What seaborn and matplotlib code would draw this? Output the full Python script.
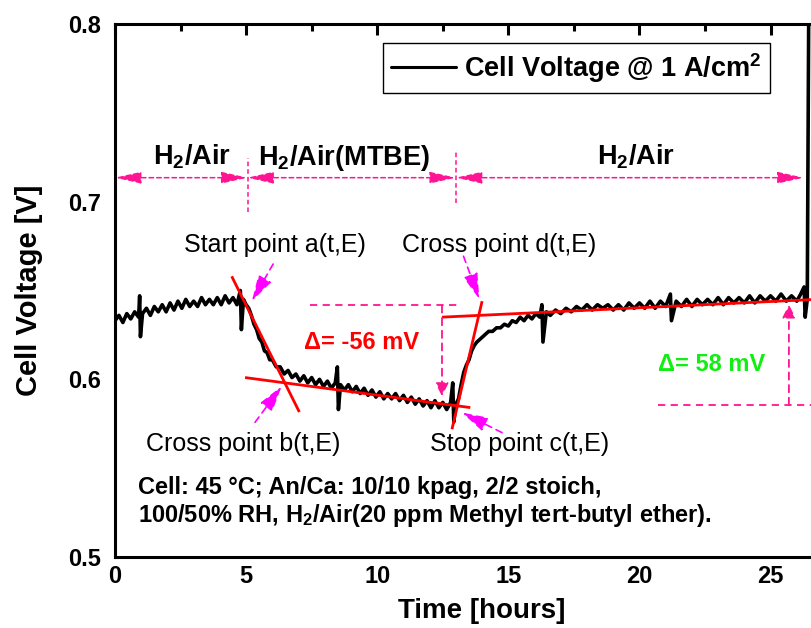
import matplotlib
matplotlib.use("Agg")
import matplotlib.pyplot as plt
import seaborn as sns
import pandas as pd
from matplotlib.ticker import MultipleLocator
from matplotlib.lines import Line2D

# ---------------- data ----------------
time_h = [0.00, 0.15, 0.30, 0.45, 0.60, 0.75, 0.90, 0.94, 0.97, 1.05, 1.20, 1.35, 1.50, 1.65, 1.80, 1.95,
          2.10, 2.25, 2.40, 2.55, 2.70, 2.85, 3.00, 3.15, 3.30, 3.45, 3.60, 3.75, 3.90, 4.05, 4.20, 4.35,
          4.50, 4.65, 4.78, 4.82, 4.90, 5.00, 5.10, 5.20, 5.30, 5.40, 5.50, 5.60, 5.70, 5.80, 5.90, 6.00,
          6.15, 6.30, 6.45, 6.60, 6.75, 6.90, 7.05, 7.20, 7.35, 7.50, 7.65, 7.80, 7.95, 8.10, 8.25, 8.40,
          8.48, 8.52, 8.60, 8.75, 8.90, 9.05, 9.20, 9.35, 9.50, 9.65, 9.80, 9.95, 10.10, 10.25, 10.40, 10.55,
          10.70, 10.85, 11.00, 11.15, 11.30, 11.45, 11.60, 11.75, 11.90, 12.05, 12.20, 12.35, 12.50, 12.65,
          12.80, 12.88, 12.92, 13.00, 13.10, 13.20, 13.30, 13.40, 13.50, 13.60, 13.70, 13.80, 13.95, 14.10,
          14.25, 14.40, 14.55, 14.70, 14.85, 15.00, 15.15, 15.30, 15.45, 15.60, 15.75, 15.90, 16.05, 16.20,
          16.28, 16.32, 16.45, 16.60, 16.80, 17.00, 17.20, 17.40, 17.60, 17.80, 18.00, 18.20, 18.40, 18.60,
          18.80, 19.00, 19.20, 19.40, 19.60, 19.80, 20.00, 20.20, 20.40, 20.60, 20.80, 21.00, 21.18, 21.22,
          21.40, 21.60, 21.80, 22.00, 22.20, 22.40, 22.60, 22.80, 23.00, 23.20, 23.40, 23.60, 23.80, 24.00,
          24.20, 24.40, 24.60, 24.80, 25.00, 25.20, 25.40, 25.60, 25.80, 26.00, 26.15, 26.28, 26.32, 26.40,
          26.46]
voltage = [0.633, 0.636, 0.632, 0.637, 0.634, 0.638, 0.635, 0.647, 0.624, 0.637, 0.640, 0.636, 0.641, 0.638, 0.642, 0.638,
           0.643, 0.639, 0.644, 0.640, 0.645, 0.641, 0.644, 0.641, 0.646, 0.642, 0.645, 0.642, 0.646, 0.642, 0.647, 0.643,
           0.646, 0.642, 0.650, 0.628, 0.645, 0.642, 0.640, 0.636, 0.631, 0.628, 0.623, 0.621, 0.616, 0.615, 0.611, 0.611,
           0.607, 0.607, 0.603, 0.605, 0.601, 0.603, 0.599, 0.602, 0.598, 0.601, 0.597, 0.600, 0.596, 0.599, 0.595, 0.598,
           0.607, 0.583, 0.597, 0.594, 0.597, 0.593, 0.596, 0.592, 0.595, 0.591, 0.594, 0.590, 0.593, 0.589, 0.592, 0.589,
           0.592, 0.588, 0.591, 0.587, 0.590, 0.586, 0.589, 0.585, 0.588, 0.584, 0.588, 0.584, 0.587, 0.583,
           0.587, 0.598, 0.576, 0.586, 0.589, 0.597, 0.604, 0.608, 0.611, 0.616, 0.619, 0.621, 0.623, 0.625,
           0.627, 0.627, 0.629, 0.629, 0.631, 0.630, 0.633, 0.632, 0.635, 0.633, 0.636, 0.634, 0.637, 0.635,
           0.642, 0.621, 0.638, 0.636, 0.639, 0.637, 0.640, 0.638, 0.641, 0.639, 0.642, 0.639, 0.642, 0.640,
           0.642, 0.639, 0.642, 0.639, 0.643, 0.640, 0.643, 0.640, 0.644, 0.640, 0.644, 0.641, 0.648, 0.633,
           0.644, 0.641, 0.645, 0.641, 0.645, 0.642, 0.645, 0.642, 0.646, 0.642, 0.646, 0.643, 0.646, 0.643,
           0.647, 0.643, 0.647, 0.644, 0.647, 0.644, 0.648, 0.644, 0.647, 0.644, 0.648, 0.652, 0.635, 0.645,
           0.820]

series_label = "Cell Voltage @ 1 A/cm$^\\mathbf{2}$"

x_ticks = [0, 5, 10, 15, 20, 25]
y_ticks = [0.5, 0.6, 0.7, 0.8]

phase_labels = ["H$_\\mathbf{2}$/Air", "H$_\\mathbf{2}$/Air(MTBE)", "H$_\\mathbf{2}$/Air"]
phase_bounds = [0.0, 5.05, 13.0, 26.26]
phase_label_t = [2.94, 8.74, 19.85]
phase_divider_t = [5.08, 13.0]
phase_divider_v = [(0.6944, 0.7247), (0.6994, 0.7281)]

# tangent / fit lines (endpoints)
fit_lines_t = [[4.45, 7.03], [4.96, 13.55], [12.85, 14.0], [12.47, 27.0]]
fit_lines_v = [[0.658, 0.5816], [0.601, 0.5841], [0.5719, 0.644], [0.635, 0.6452]]

point_labels = ["Start point a(t,E)", "Cross point b(t,E)", "Stop point c(t,E)", "Cross point d(t,E)"]
point_label_t = [6.10, 4.90, 15.42, 14.66]
point_label_v = [0.6719, 0.5597, 0.5597, 0.6719]
point_arrow_from = [(6.03, 0.6649), (5.34, 0.5758), (14.76, 0.5700), (13.29, 0.6693)]
point_arrow_to = [(5.22, 0.6440), (6.36, 0.5962), (13.23, 0.5813), (13.90, 0.6450)]

delta_labels = ["\u0394= -56 mV", "\u0394= 58 mV"]
delta_label_t = [9.42, 22.77]
delta_label_v = [0.6169, 0.6047]
# measurement guides: horizontal (t0, t1, v), vertical (t, v_from, v_to)
delta_h = [(7.45, 13.2, 0.6416), (20.7, 27.0, 0.5856)]
delta_v = [(12.47, 0.6416, 0.5905), (25.70, 0.5856, 0.6421)]

note_lines = ["Cell: 45 \u00b0C; An/Ca: 10/10 kpag, 2/2 stoich,",
              "100/50% RH, H$_\\mathbf{2}$/Air(20 ppm Methyl tert-butyl ether)."]
note_t = 0.88
note_v = [0.5354, 0.5197]

# ---------------- style ----------------
sns.set_style("white")
plt.rcParams["font.family"] = ["Liberation Sans", "DejaVu Sans"]
plt.rcParams["mathtext.fontset"] = "custom"
plt.rcParams["mathtext.rm"] = "Liberation Sans"
plt.rcParams["mathtext.bf"] = "Liberation Sans:bold"
plt.rcParams["mathtext.it"] = "Liberation Sans:italic"
for k in ["text.color", "axes.labelcolor", "xtick.color", "ytick.color", "axes.edgecolor"]:
    plt.rcParams[k] = "black"

PINK = "#ff1493"
MAGENTA = "#ff00ff"
RED = "#ff0000"
GREEN = "#11ee11"

fig = plt.figure(figsize=(8.12, 6.28), dpi=100)
fig.patch.set_facecolor("white")
ax = fig.add_axes([115 / 812, 71 / 628, 708 / 812, 533 / 628])

df = pd.DataFrame({"t": time_h, "v": voltage})
sns.lineplot(data=df, x="t", y="v", ax=ax, color="black", lw=2.6,
             estimator=None, sort=False, legend=False)

ax.set_xlim(0, 27)
ax.set_ylim(0.5, 0.8)
ax.set_xticks(x_ticks)
ax.set_yticks(y_ticks)
ax.set_xticklabels([str(v) for v in x_ticks])
ax.set_yticklabels([f"{v:.1f}" for v in y_ticks])
ax.xaxis.set_minor_locator(MultipleLocator(2.5))
ax.yaxis.set_minor_locator(MultipleLocator(0.05))
ax.tick_params(which="both", direction="in", top=True, right=True, width=2.2, color="black")
ax.tick_params(which="major", length=8)
ax.tick_params(which="minor", length=5)
ax.tick_params(axis="y", which="major", pad=10, labelsize=17, labelcolor="black")
ax.tick_params(axis="x", which="major", pad=6, labelsize=17, labelcolor="black")
for lab in ax.get_xticklabels() + ax.get_yticklabels():
    lab.set_fontweight("bold")
for sp in ax.spines.values():
    sp.set_linewidth(2.2)
    sp.set_color("black")

ax.set_xlabel("Time [hours]", fontsize=20, fontweight="bold", color="black")
ax.set_ylabel("Cell Voltage [V]", fontsize=21, fontweight="bold", color="black")
ax.xaxis.set_label_coords(0.518, -0.102)
ax.yaxis.set_label_coords(-0.1017, 0.5)
ax.xaxis.label.set_va("center")

# fit lines
for ft, fv in zip(fit_lines_t, fit_lines_v):
    ax.plot(ft, fv, color=RED, lw=2.0, solid_capstyle="butt")

# phase arrows
y_arrow = 0.7135
for i in range(3):
    t0, t1 = phase_bounds[i], phase_bounds[i + 1]
    ax.annotate("", xy=(t1, y_arrow), xytext=(t0, y_arrow),
                arrowprops=dict(arrowstyle="<|-|>,head_length=1.6,head_width=0.36",
                                color=PINK, lw=1.1, linestyle=(0, (3, 2)),
                                shrinkA=0, shrinkB=0, mutation_scale=10))
    ax.text(phase_label_t[i], 0.7208, phase_labels[i], ha="center", va="baseline",
            fontsize=19.5, fontweight="bold", color="black")
for dt, (v0, v1) in zip(phase_divider_t, phase_divider_v):
    ax.plot([dt, dt], [v0, v1], color=PINK, lw=1.1, linestyle=(0, (3, 2)))

# point annotations
for lab, lt, lv, p0, p1 in zip(point_labels, point_label_t, point_label_v,
                               point_arrow_from, point_arrow_to):
    ax.text(lt, lv, lab, ha="center", va="baseline", fontsize=18, color="black")
    ax.annotate("", xy=p1, xytext=p0,
                arrowprops=dict(arrowstyle="-|>,head_length=1.6,head_width=0.45",
                                color=MAGENTA, lw=1.2, linestyle=(0, (4, 3)),
                                shrinkA=0, shrinkB=0, mutation_scale=10))

# delta measurement guides
for (t0, t1, v) in delta_h:
    ax.plot([t0, t1], [v, v], color=PINK, lw=1.3, linestyle=(0, (4, 3)))
for (t, v0, v1) in delta_v:
    ax.annotate("", xy=(t, v1), xytext=(t, v0),
                arrowprops=dict(arrowstyle="-|>,head_length=0.8,head_width=0.4",
                                color=PINK, lw=1.3, linestyle=(0, (4, 3)),
                                shrinkA=0, shrinkB=0, mutation_scale=10))

ax.text(delta_label_t[0], delta_label_v[0], delta_labels[0], ha="center", va="baseline",
        fontsize=17, fontweight="bold", color=RED)
ax.text(delta_label_t[1], delta_label_v[1], delta_labels[1], ha="center", va="baseline",
        fontsize=17, fontweight="bold", color=GREEN)

# condition note
for line, nv in zip(note_lines, note_v):
    ax.text(note_t, nv, line, ha="left", va="baseline", fontsize=17, fontweight="bold",
            color="black")

# legend
handle = Line2D([], [], color="black", lw=2.2)
leg = ax.legend([handle], [series_label], loc="upper left",
                bbox_to_anchor=(383 / 812, 1 - 43 / 628), bbox_transform=fig.transFigure,
                borderaxespad=0, frameon=True, fancybox=False, framealpha=1,
                edgecolor="black", prop={"weight": "bold", "size": 19.5},
                handlelength=2.4, handletextpad=0.3, borderpad=0.3)
leg.get_frame().set_linewidth(1.0)
for txt in leg.get_texts():
    txt.set_color("black")

fig.savefig("out.png", dpi=100, facecolor="white")
